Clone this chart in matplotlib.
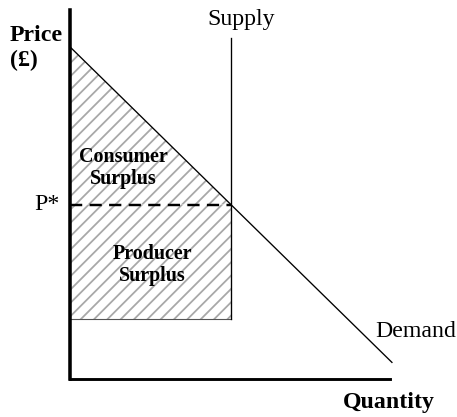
import matplotlib
matplotlib.use("Agg")
import matplotlib.pyplot as plt

plt.rcParams['font.family'] = ['Liberation Serif', 'DejaVu Serif']
plt.rcParams['hatch.color'] = '#a8a8a8'
plt.rcParams['hatch.linewidth'] = 1.6

# Data (economic units)
demand_q = [0.0, 10.0]
demand_p = [10.0, 0.5]
supply_q = [5.0, 5.0]
supply_p = [1.8, 10.27]
p_star = 5.25
q_star = 5.0
p_floor = 1.8
x_max = 9.94
y_max = 11.11

DPI = 80
fig = plt.figure(figsize=(457 / DPI, 417 / DPI), dpi=DPI)
W, H = 457, 417
ax = fig.add_axes([70 / W, (H - 379) / H, (390 - 70) / W, (379 - 10) / H])
ax.set_xlim(0, x_max)
ax.set_ylim(0, y_max)
for s in ['top', 'right']:
    ax.spines[s].set_visible(False)
ax.spines['left'].set_linewidth(3.2)
ax.spines['bottom'].set_linewidth(2.6)
ax.set_xticks([])
ax.set_yticks([])

# Consumer surplus triangle
ax.fill([0, q_star, 0], [demand_p[0], p_star, p_star], facecolor='none',
        edgecolor='#a8a8a8', hatch='//', linewidth=0)
# Producer surplus rectangle
ax.fill([0, q_star, q_star, 0], [p_floor, p_floor, p_star, p_star],
        facecolor='none', edgecolor='#a8a8a8', hatch='//', linewidth=0)
ax.plot([0, q_star], [p_floor, p_floor], color='#555555', lw=1.0)

# Demand & supply
ax.plot(demand_q, demand_p, color='black', lw=1.2, clip_on=False)
ax.plot(supply_q, supply_p, color='black', lw=1.2, clip_on=False)
ax.plot([0, q_star], [p_star, p_star], color='black', lw=2.2,
        dashes=(5, 3), clip_on=False)

# Labels
ax.text(-1.86, 9.97, 'Price\n(£)', ha='left', va='center', fontsize=21.5,
        fontweight='bold', linespacing=1.2)
ax.text(-0.31, p_star, 'P*', ha='right', va='center', fontsize=21.5)
ax.text(5.31, 10.81, 'Supply', ha='center', va='center', fontsize=21.5,
        clip_on=False)
ax.text(9.47, 1.42, 'Demand', ha='left', va='center', fontsize=21.5)
ax.text(9.91, -0.72, 'Quantity', ha='center', va='center', fontsize=21.5,
        fontweight='bold')
ax.text(1.65, 6.36, 'Consumer\nSurplus', ha='center', va='center',
        fontsize=18, fontweight='bold', linespacing=1.1)
ax.text(2.55, 3.43, 'Producer\nSurplus', ha='center', va='center',
        fontsize=18, fontweight='bold', linespacing=1.1)

fig.savefig('out.png', dpi=DPI)
